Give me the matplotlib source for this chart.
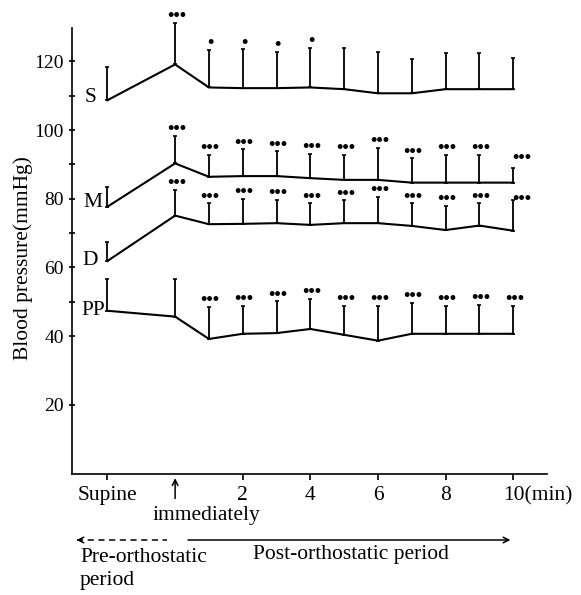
import numpy as np
import matplotlib.pyplot as plt
from matplotlib.transforms import ScaledTranslation, blended_transform_factory

plt.rcParams['font.family'] = ['Liberation Serif', 'DejaVu Serif']

# time points: supine, immediately, then 1..10 min after standing up
times = [-2, 0, 1, 2, 3, 4, 5, 6, 7, 8, 9, 10]

# systolic (S), mean (M), diastolic (D), pulse pressure (PP), upper SD
s_mean = [108.7, 119.1, 112.4, 112.2, 112.2, 112.4, 111.9, 110.7, 110.7, 111.9, 111.9, 111.9]
s_sd = [9.7, 12.1, 10.9, 11.3, 10.6, 11.6, 11.9, 11.9, 9.9, 10.4, 10.4, 9.1]
s_sig = ['', '•••', '•', '•', '•', '•', '', '', '', '', '', '']

m_mean = [77.7, 90.3, 86.4, 86.6, 86.6, 86.0, 85.5, 85.5, 84.7, 84.7, 84.7, 84.7]
m_sd = [5.6, 8.0, 6.3, 7.8, 7.2, 7.0, 7.2, 9.3, 7.1, 8.0, 8.0, 4.2]
m_sig = [''] + ['•••'] * 11

d_mean = [61.9, 75.1, 72.6, 72.7, 72.9, 72.4, 72.9, 72.9, 72.1, 70.9, 72.2, 70.7]
d_sd = [5.6, 7.5, 6.1, 7.2, 6.8, 6.3, 6.6, 7.7, 6.6, 7.1, 6.5, 9.0]
d_sig = [''] + ['•••'] * 11

pp_mean = [47.4, 45.7, 39.2, 40.7, 40.9, 42.1, 40.4, 38.7, 40.7, 40.7, 40.7, 40.7]
pp_sd = [9.3, 11.0, 9.4, 8.1, 9.2, 8.8, 8.4, 10.1, 9.1, 8.1, 8.4, 8.2]
pp_sig = ['', ''] + ['•••'] * 10

series = [('S', s_mean, s_sd, s_sig),
          ('M', m_mean, m_sd, m_sig),
          ('D', d_mean, d_sd, d_sig),
          ('PP', pp_mean, pp_sd, pp_sig)]

xtick_pos = [-2, 2, 4, 6, 8, 10]
xtick_labels = ['Supine', '2', '4', '6', '8', '10(min)']
ytick_pos = [20, 40, 60, 80, 100, 120]

fig = plt.figure(figsize=(5.81, 5.95), dpi=100, facecolor='white')
ax = fig.add_axes([0.1239, 0.2040, 0.8176, 0.7489])

# label offsets (points) for the series names, left of the supine value
name_off = {'S': (-8, 2), 'M': (-3.5, 3), 'D': (-7, 0), 'PP': (-1.5, 0)}
star_fs = 13

for name, mean, sd, sig in series:
    lower = np.zeros(len(mean))
    eb = ax.errorbar(times, mean, yerr=[lower, sd], fmt='-', color='black',
                     lw=1.5, elinewidth=1.3, capsize=1.5, capthick=1.2)
    for artist in eb.get_children():
        artist.set_clip_on(False)
    for i, (t, m, e, st) in enumerate(zip(times, mean, sd, sig)):
        if not st:
            continue
        if i == len(times) - 1 and name == 'M':
            off, ha = (-1, 3.5), 'left'
        elif i == len(times) - 1 and name == 'D':
            off, ha = (-1, -3), 'left'
        else:
            off, ha = (1, 1.2), 'center'
        ax.annotate(st, (t, m + e), xytext=off, textcoords='offset points',
                    ha=ha, va='baseline', fontsize=star_fs, fontweight='bold',
                    annotation_clip=False)
    dx, dy = name_off[name]
    ax.annotate(name, (times[0], mean[0]), xytext=(dx, dy), textcoords='offset points',
                ha='right', va='center', fontsize=15.5)

ax.set_xlim(-3.05, 11.0)
ax.set_ylim(0, 129.7)

ax.spines['top'].set_visible(False)
ax.spines['right'].set_visible(False)
ax.spines['left'].set_linewidth(1.2)
ax.spines['bottom'].set_linewidth(1.2)

ax.set_yticks(ytick_pos)
ax.set_yticks([50, 70, 90, 110], minor=True)
ax.tick_params(axis='y', which='both', direction='inout', length=4, width=1.2,
               labelsize=14, pad=4)
ax.set_xticks(xtick_pos)
ax.set_xticklabels(xtick_labels)
ax.tick_params(axis='x', direction='out', length=4, width=1.2, labelsize=15.5, pad=5)

# keep "10" of "10(min)" on its tick
last = ax.get_xticklabels()[-1]
last.set_ha('left')
last.set_transform(last.get_transform() + ScaledTranslation(-0.10, 0, fig.dpi_scale_trans))

bt = blended_transform_factory(ax.transData, ax.transAxes)

# tall arrow marking the moment of standing up
ax.annotate('', xy=(0, -0.004), xycoords=bt, xytext=(0, -0.062), textcoords=bt,
            arrowprops=dict(arrowstyle='->', lw=1.1, color='black'))
ax.text(0.92, -0.093, 'immediately', transform=bt, ha='center', va='center', fontsize=15.5)

# period arrows below the axis
yb = -0.149
ax.plot([-2.9, -0.24], [yb, yb], transform=bt, clip_on=False, color='black',
        lw=1.1, ls=(0, (4, 3)))
ax.annotate('', xy=(-3.0, yb), xycoords=bt, xytext=(-2.7, yb), textcoords=bt,
            arrowprops=dict(arrowstyle='->', lw=1.1, color='black'))
ax.annotate('', xy=(10.0, yb), xycoords=bt, xytext=(0.3, yb), textcoords=bt,
            arrowprops=dict(arrowstyle='->', lw=1.1, color='black'))

fig.text(80 / 581, 1 - 557 / 595, 'Pre-orthostatic', ha='left', va='center', fontsize=15.5)
fig.text(80 / 581, 1 - 581 / 595, 'period', ha='left', va='center', fontsize=15.5)
fig.text(253 / 581, 1 - 555 / 595, 'Post-orthostatic period', ha='left', va='center',
         fontsize=15.5)

fig.text(23 / 581, 1 - 258 / 595, 'Blood pressure(mmHg)', rotation=90,
         ha='center', va='center', fontsize=15.5)

fig.savefig('out.png', dpi=100, facecolor='white')
